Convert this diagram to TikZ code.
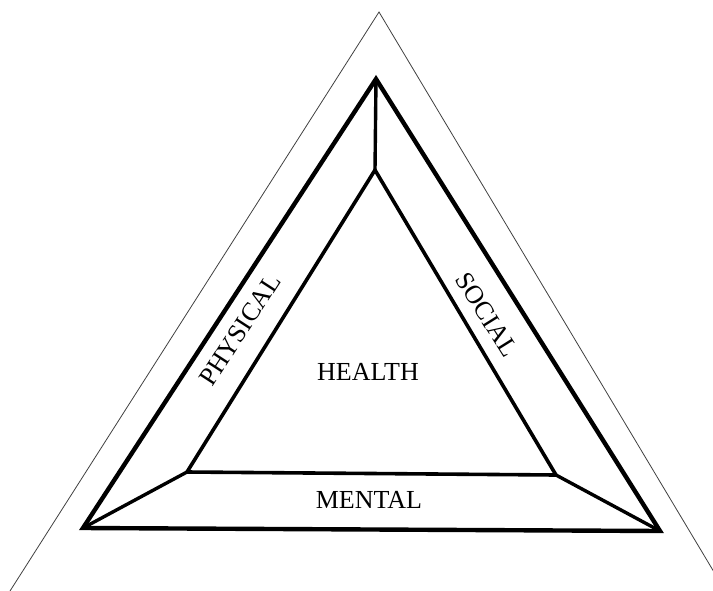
\documentclass[tikz,border=0pt]{standalone}
\usepackage{fontspec}
\setmainfont{Liberation Serif}
\begin{document}
\begin{tikzpicture}[x=1pt,y=-1pt,
  outerline/.style={line width=0.8pt,black!75},
  midline/.style={line width=4.4pt,line join=miter},
  innerline/.style={line width=3.6pt,line join=miter},
  linkline/.style={line width=3.4pt},
  lbl/.style={font=\fontsize{26}{30}\selectfont,inner sep=0pt}]
\useasboundingbox (0,0) rectangle (713,590);
% outer thin triangle
\coordinate (OA) at (379,12);
\coordinate (OL) at (10,591);
\coordinate (OR) at (714,572);
\draw[outerline] (OL) -- (OA) -- (OR);
% middle triangle
\coordinate (MA) at (376,79);
\coordinate (ML) at (83,528);
\coordinate (MR) at (660,531);
\draw[midline] (MA) -- (ML) -- (MR) -- cycle;
% inner triangle
\coordinate (IA) at (375,170);
\coordinate (IL) at (187,472);
\coordinate (IR) at (556,475);
\draw[innerline] (IA) -- (IL) -- (IR) -- cycle;
% links
\draw[linkline] (MA) -- (IA);
\draw[linkline] (ML) -- (IL);
\draw[linkline] (MR) -- (IR);
% labels
\node[lbl] (health) at (368,372) {HEALTH};
\node[lbl] (mental) at (369,500) {MENTAL};
\node[lbl,rotate=57] (physical) at (240,330) {PHYSICAL};
\node[lbl,rotate=-58] (social) at (487,315) {SOCIAL};
\end{tikzpicture}
\end{document}
